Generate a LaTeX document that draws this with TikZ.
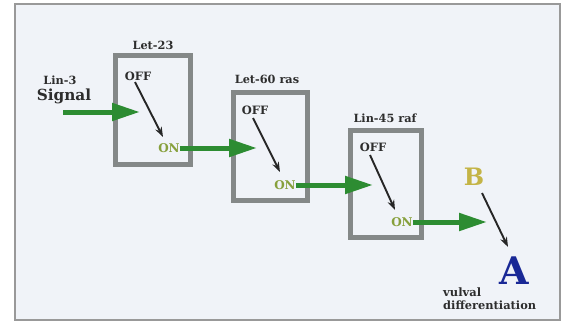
\documentclass[tikz,border=0pt]{standalone}
\usepackage{fontspec}
\setmainfont{DejaVu Serif}
\usetikzlibrary{arrows.meta}
\definecolor{txt}{RGB}{45,45,45}
\definecolor{grn}{RGB}{45,140,50}
\definecolor{ongrn}{RGB}{135,160,60}
\definecolor{boxgray}{RGB}{132,136,136}
\definecolor{bcol}{RGB}{196,180,70}
\definecolor{acol}{RGB}{25,40,150}
\definecolor{panel}{RGB}{240,243,248}
\tikzset{
  lbl/.style={inner sep=0pt, text=txt, font=\bfseries\fontsize{11.3}{13}\selectfont},
  offtxt/.style={inner sep=0pt, text=txt, font=\bfseries\fontsize{11.5}{13}\selectfont},
  ontxt/.style={inner sep=0pt, text=ongrn, font=\bfseries\fontsize{12}{14}\selectfont},
  switchbox/.style={draw=boxgray, line width=5pt, inner sep=0pt, rectangle},
  grnarrow/.style={draw=grn, line width=5pt, -{Triangle[length=28pt,width=17pt]}},
  blkarrow/.style={draw=black!85, line width=1.9pt, -{Stealth[length=10pt,width=7pt]}},
}
\begin{document}
\begin{tikzpicture}[x=1pt,y=-1pt]
\useasboundingbox (0,0) rectangle (569,322);
\fill[white] (0,0) rectangle (569,322);
\draw[draw=gray!80, line width=1.2pt, fill=panel] (15,4) rectangle (560,320);

% boxes
\node[switchbox, minimum width=75pt, minimum height=109pt] (box1) at (153,110) {};
\node[switchbox, minimum width=74pt, minimum height=108pt] (box2) at (270.5,146.5) {};
\node[switchbox, minimum width=71pt, minimum height=107pt] (box3) at (386,184) {};

% labels
\node[lbl] (l1) at (153,45) {Let-23};
\node[lbl] (l2) at (267,79) {Let-60 ras};
\node[lbl] (l3) at (385,118) {Lin-45 raf};
\node[lbl] (lin3) at (60,80) {Lin-3};
\node[inner sep=0pt, text=txt, font=\bfseries\fontsize{15.3}{17}\selectfont] (sig) at (64,96) {Signal};

% off / on
\node[offtxt] (off1) at (138,76) {OFF};
\node[ontxt] (on1) at (169,148) {ON};
\node[offtxt] (off2) at (255,110) {OFF};
\node[ontxt] (on2) at (285,185) {ON};
\node[offtxt] (off3) at (373,147) {OFF};
\node[ontxt] (on3) at (402,222) {ON};

% B, A
\node[inner sep=0pt, text=bcol, font=\bfseries\fontsize{24}{26}\selectfont] (B) at (474,177) {B};
\node[inner sep=0pt, text=acol, font=\bfseries\fontsize{38}{40}\selectfont] (A) at (514,271) {A};
\node[lbl, anchor=west, font=\bfseries\fontsize{11.5}{13}\selectfont] (vul) at (443,292) {vulval};
\node[lbl, anchor=west, font=\bfseries\fontsize{11.4}{13}\selectfont] (dif) at (443,305) {differentiation};

% coordinates
\coordinate (s0) at (63,112);
\coordinate (t1) at (140,112);
\coordinate (t2) at (257,148);
\coordinate (t3) at (373,185);
\coordinate (t4) at (487,222);
\coordinate (k1) at (163,137);
\coordinate (k2) at (280,172);
\coordinate (k3) at (395,210);
\coordinate (kb) at (508,247);
\coordinate (ka) at (135,82);
\coordinate (kc) at (253,118);
\coordinate (kd) at (370,155);
\coordinate (ke) at (482,193);

% green arrows
\draw[grnarrow] (s0) -- (t1);
\draw[grnarrow] (on1.east) -- (t2);
\draw[grnarrow] (on2.east) -- (t3);
\draw[grnarrow] (on3.east) -- (t4);

% switch arrows
\draw[blkarrow] (ka) -- (k1);
\draw[blkarrow] (kc) -- (k2);
\draw[blkarrow] (kd) -- (k3);
\draw[blkarrow] (ke) -- (kb);
\end{tikzpicture}
\end{document}
